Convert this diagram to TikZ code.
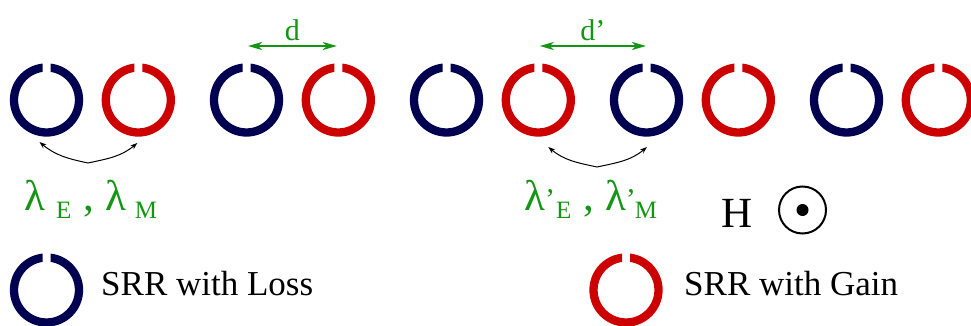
\documentclass[tikz,border=0pt]{standalone}
\usepackage{fontspec}
\setmainfont{Liberation Serif}
\usetikzlibrary{arrows.meta, positioning}

\definecolor{lossblue}{RGB}{0,0,80}
\definecolor{gainred}{RGB}{204,0,0}
\definecolor{labelgreen}{RGB}{20,150,20}

% subscript and prime of the coupling labels
\newcommand{\lsub}[1]{\raisebox{-8pt}{\fontsize{25}{25}\selectfont #1}}
\newcommand{\lprime}{\rlap{\raisebox{1pt}{\fontsize{30}{30}\selectfont ’}}}

\begin{document}
\begin{tikzpicture}[x=1pt, y=1pt, >=Stealth,
		srr/.pic={
			\clip (-40,-40) -| (40,40) -- (4,40) -- (4,0) -- (-4,0) -- (-4,40) -- (-40,40) -- cycle;
			\draw[line width=8.3pt] (0,0) circle[radius=32.5pt];
		},
		sep/.style={<->, labelgreen, line width=2pt, >={Stealth[length=14pt, width=8pt, inset=4pt]}},
		couple/.style={<->, black, line width=1pt, >={Stealth[length=7pt, width=5pt]}},
		biglabel/.style={anchor=base west, inner sep=0pt, font=\fontsize{43}{43}\selectfont}]
	\useasboundingbox (0,0) rectangle (971,-326);
	
	% chain of rings
	\foreach \k in {1,...,5} {
		\coordinate (b\k) at ({200*\k-153.5}, -100);
		\coordinate (r\k) at ({200*\k-61.7}, -100);
		\pic[lossblue] at (b\k) {srr};
		\pic[gainred] at (r\k) {srr};
	}
	
	\draw[sep] ([xshift=1.5pt, yshift=54pt]b2) -- ([xshift=-1.5pt, yshift=54pt]r2) node[midway, above=1pt, font=\fontsize{30}{30}\selectfont] (dlab) {d};
	\draw[sep] ([xshift=1.5pt, yshift=54pt]r3) -- ([xshift=-0.5pt, yshift=54pt]b4) node[midway, above=1pt, font=\fontsize{30}{30}\selectfont] (dplab) {d’};
	
	\coordinate (k1) at (88,-163);
	\coordinate (k2) at (597,-167);
	\draw[couple] ([xshift=-7pt, yshift=-42pt]b1) to[out=-40, in=168] (k1) to[out=12, in=-140] ([xshift=-1pt, yshift=-43pt]r1);
	\draw[couple] ([xshift=10pt, yshift=-47pt]r3) to[out=-40, in=168] (k2) to[out=12, in=-140] ([xshift=0.5pt, yshift=-47pt]b4);
	
	\node[biglabel, labelgreen] (lam) at (24,-210) {λ\hspace{11pt}\lsub{E}\hspace{12pt},\hspace{11pt}λ\hspace{9pt}\lsub{M}};
	\node[biglabel, labelgreen] (lamp) at (524,-210) {λ\lprime\hspace{11pt}\lsub{E}\hspace{12pt},\hspace{11pt}λ\lprime\hspace{9pt}\lsub{M}};
	
	% field direction
	\node[biglabel] (H) at (721,-227) {H};
	\node[circle, draw, line width=2pt, minimum size=47pt, inner sep=0pt] (hdot) at (802.5,-210) {};
	\fill (hdot.center) circle[radius=6pt];
	
	% legend
	\coordinate (lossring) at (46.5,-290);
	\coordinate (gainring) at (626,-290);
	\pic[lossblue] at (lossring) {srr};
	\pic[gainred] at (gainring) {srr};
	\node[anchor=base west, inner sep=0pt, font=\fontsize{35}{35}\selectfont] (losstext) at (101,-295) {SRR with Loss};
	\node[anchor=base west, inner sep=0pt, font=\fontsize{35}{35}\selectfont] (gaintext) at (684,-295) {SRR with Gain};
\end{tikzpicture}
\end{document}
